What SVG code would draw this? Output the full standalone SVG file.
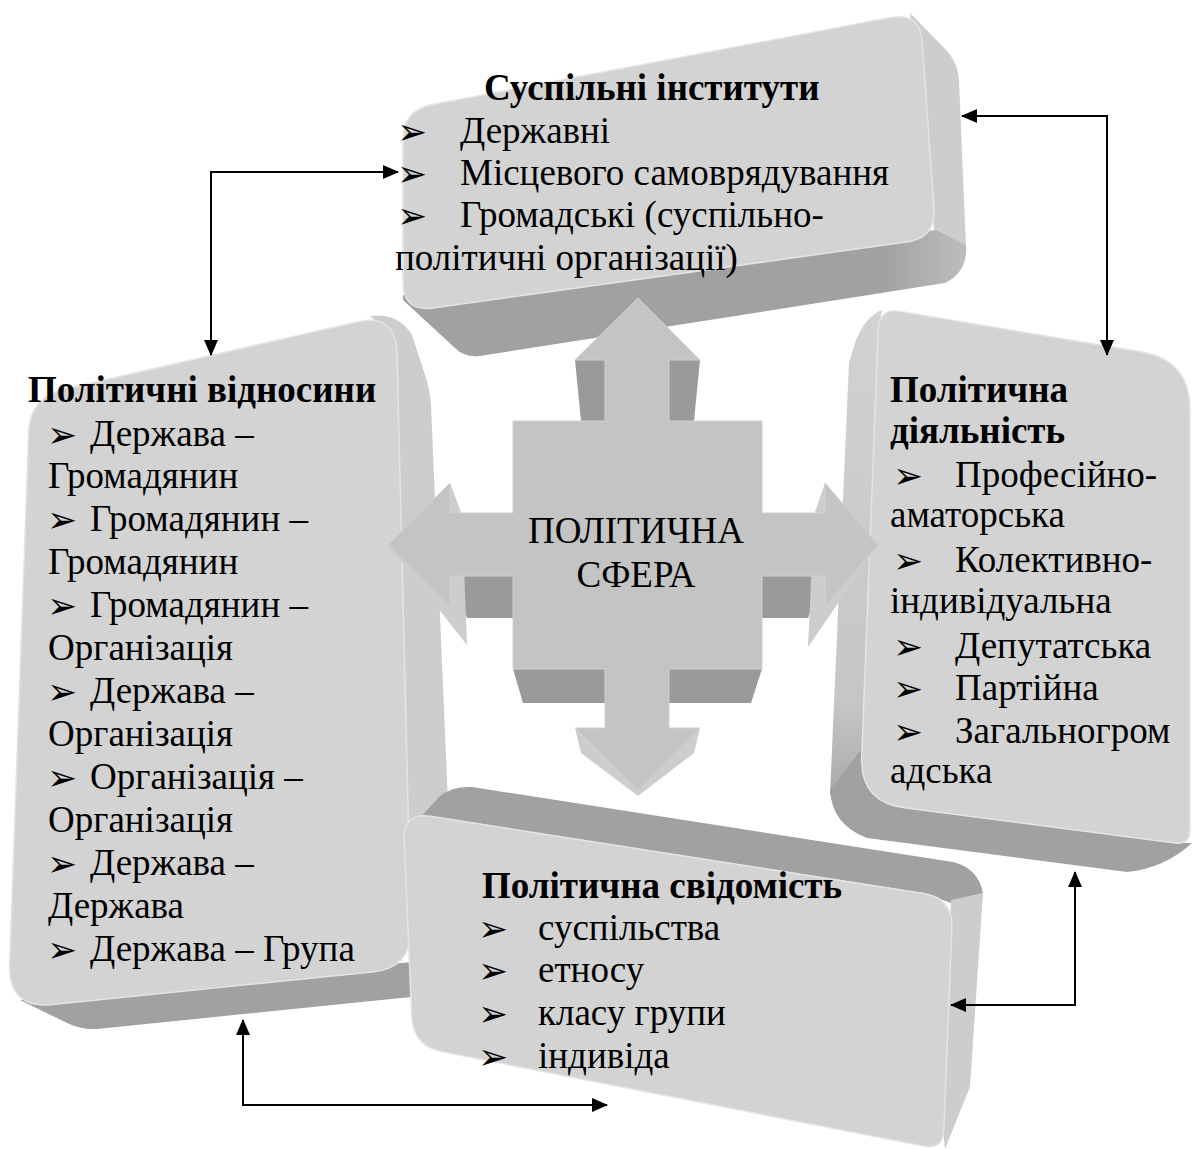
<svg xmlns="http://www.w3.org/2000/svg" width="1196" height="1149" viewBox="0 0 1196 1149">
<defs>
<style>
.face{fill:#d3d3d3;stroke:#e4e4e4;stroke-width:1.5}
.side{fill:#cdcdcd}
.dark{fill:#a1a1a1}
.cf{fill:#c4c4c4;stroke:#d0d0d0;stroke-width:1}
.cd{fill:#9a9a9a}
.cb{fill:#cdcdcd}
.t{font-family:"Liberation Serif","Times New Roman",serif;font-size:37px;fill:#000}
.b{font-weight:bold}
.bul{font-family:"DejaVu Sans",sans-serif;font-size:36px;fill:#000}
.conn{fill:none;stroke:#000;stroke-width:2}
</style>
<marker id="ah" viewBox="0 0 16 14" refX="15" refY="7" markerWidth="16" markerHeight="14" markerUnits="userSpaceOnUse" orient="auto-start-reverse">
<path d="M0,0 L16,7 L0,14 Z" fill="#000"/>
</marker>
<linearGradient id="rbSide" x1="0" y1="0" x2="0" y2="1">
<stop offset="0" stop-color="#d2d2d2"/>
<stop offset="0.8" stop-color="#c6c6c6"/>
<stop offset="1" stop-color="#a8a8a8"/>
</linearGradient>
<linearGradient id="cornerDark" x1="0" y1="0" x2="1" y2="0">
<stop offset="0" stop-color="#a1a1a1"/>
<stop offset="0.85" stop-color="#a1a1a1"/>
<stop offset="1" stop-color="#bdbdbd"/>
</linearGradient>
</defs>

<g id="node-political-relations">
<path class="side" d="M370,316 Q398,312 412,335 L425,375 Q430,390 431,405 L456,990 L412,968 L396,340 Z"/>
<path class="dark" d="M20,1000 L412,962 L456,985 L440,994 L97,1029 Q80,1030 65,1022 Z"/>
<path class="face" d="M28.7,432 Q30,397 64.1,389.2 L357,321.9 Q396,313 397,353 L411,928 Q412,968 372.2,972 L52.8,1004.5 Q8,1009 9.6,964 Z"/>
<text class="t b" x="28" y="402">Політичні відносини</text>
<text class="bul" x="47" y="447">➢</text><text class="t" x="90" y="446">Держава –</text>
<text class="t" x="48" y="488">Громадянин</text>
<text class="bul" x="47" y="532">➢</text><text class="t" x="90" y="531">Громадянин –</text>
<text class="t" x="48" y="574">Громадянин</text>
<text class="bul" x="47" y="618">➢</text><text class="t" x="90" y="617">Громадянин –</text>
<text class="t" x="48" y="660">Організація</text>
<text class="bul" x="47" y="704">➢</text><text class="t" x="90" y="703">Держава –</text>
<text class="t" x="48" y="746">Організація</text>
<text class="bul" x="47" y="790">➢</text><text class="t" x="90" y="789">Організація –</text>
<text class="t" x="48" y="832">Організація</text>
<text class="bul" x="47" y="876">➢</text><text class="t" x="90" y="875">Держава –</text>
<text class="t" x="48" y="918">Держава</text>
<text class="bul" x="47" y="962">➢</text><text class="t" x="90" y="961">Держава – Група</text>
</g>

<g id="node-social-institutions">
<path class="side" d="M910,13 L948,52 Q958,64 959,80 L966,248 L935,238 Z"/>
<path fill="url(#cornerDark)" d="M403,295 L936,230 L966,245 Q968,272 945,283 L480,356 Q465,358 455,348 L403,300 Z"/>
<path class="face" d="M403,140 Q403,110 432.5,104.4 L890.5,17.6 Q920,12 922.1,41.9 L933.9,208.1 Q936,238 906.3,242.1 L432.7,307.9 Q403,312 403,282 Z"/>
<text class="t b" x="484" y="100">Суспільні інститути</text>
<text class="bul" x="397" y="144">➢</text><text class="t" x="460" y="143">Державні</text>
<text class="bul" x="397" y="186">➢</text><text class="t" x="460" y="185">Місцевого самоврядування</text>
<text class="bul" x="397" y="228">➢</text><text class="t" x="460" y="227">Громадські (суспільно-</text>
<text class="t" x="395" y="270">політичні організації)</text>
</g>

<g id="node-political-consciousness">
<path class="dark" d="M404,835 L440,796 Q452,786 472,787 L953,862 Q978,868 983,893 L951,903 L923,893 L430,816 Q410,815 404,835 Z"/>
<path class="side" d="M951,900 L983,893 L970,1087 L945,1149 L943,1130 Z"/>
<path class="face" d="M404.2,840 Q403,812 430.7,816.3 L923.4,893.4 Q953,898 951.8,928 L943.8,1130 Q943,1150 923.4,1146.1 L442.4,1051.8 Q413,1046 411.7,1016 Z"/>
<text class="t b" x="482" y="898">Політична свідомість</text>
<text class="bul" x="478" y="941">➢</text><text class="t" x="538" y="940">суспільства</text>
<text class="bul" x="478" y="983">➢</text><text class="t" x="538" y="982">етносу</text>
<text class="bul" x="478" y="1026">➢</text><text class="t" x="538" y="1025">класу групи</text>
<text class="bul" x="478" y="1069">➢</text><text class="t" x="538" y="1068">індивіда</text>
</g>

<g id="node-political-activity">
<path fill="url(#rbSide)" d="M882,310 Q866,316 856,340 L849,362 L830,795 L862,800 L879,330 Z"/>
<path class="dark" d="M861,750 L830,790 Q832,825 867,838 L1127,872 Q1165,868 1192,843 L1175,843 L904,808 Q862,802 861,757 Z"/>
<path class="face" d="M878.2,330 Q879,308 900.7,311.6 L1140.7,351.8 Q1190,360 1190,410 L1190,830 Q1190,845 1175.1,843.1 L904.6,807.8 Q860,802 861.7,757 Z"/>
<text class="t b" x="890" y="402">Політична</text>
<text class="t b" x="890" y="443">діяльність</text>
<text class="bul" x="893" y="488">➢</text><text class="t" x="955" y="487">Професійно-</text>
<text class="t" x="890" y="527">аматорська</text>
<text class="bul" x="893" y="573">➢</text><text class="t" x="955" y="572">Колективно-</text>
<text class="t" x="890" y="613">індивідуальна</text>
<text class="bul" x="893" y="659">➢</text><text class="t" x="955" y="658">Депутатська</text>
<text class="bul" x="893" y="701">➢</text><text class="t" x="955" y="700">Партійна</text>
<text class="bul" x="893" y="744">➢</text><text class="t" x="955" y="743">Загальногром</text>
<text class="t" x="890" y="783">адська</text>
</g>

<g id="node-political-sphere">
<path class="cd" d="M575,360 L605,360 L605,421 L581,421 Z"/>
<path class="cd" d="M669,360 L700,360 L694,421 L669,421 Z"/>
<path class="cd" d="M452,576 L513,576 L513,618 L467,618 Z"/>
<path class="cd" d="M762,576 L825,576 L808,618 L762,618 Z"/>
<path class="cd" d="M513,669 L605,669 L605,703 L523,703 Z"/>
<path class="cd" d="M669,669 L762,669 L751,703 L669,703 Z"/>
<path class="cb" d="M450,483 L462,515 L467,645 L388,545 Z"/>
<path class="cb" d="M825,483 L814,515 L808,647 L878,545 Z"/>
<path class="cb" d="M575,728 L581,753 L638,796 L694,753 L700,728 Z"/>
<path class="cf" d="M605,421 L605,360 L575,360 L638,298 L700,360 L669,360 L669,421 L762,421 L762,513 L825,513 L825,483 L878,545 L825,607 L825,576 L762,576 L762,669 L669,669 L669,728 L700,728 L638,790 L575,728 L605,728 L605,669 L513,669 L513,576 L450,576 L450,607 L388,545 L450,483 L450,513 L513,513 L513,421 Z"/>
<text class="t" x="636" y="543" text-anchor="middle">ПОЛІТИЧНА</text>
<text class="t" x="636" y="587" text-anchor="middle">СФЕРА</text>
</g>

<g id="connectors">
<path class="conn" d="M211,355 L211,172 L398,172" marker-start="url(#ah)" marker-end="url(#ah)"/>
<path class="conn" d="M962,116 L1107,116 L1107,355" marker-start="url(#ah)" marker-end="url(#ah)"/>
<path class="conn" d="M1075,872 L1075,1005 L951,1005" marker-start="url(#ah)" marker-end="url(#ah)"/>
<path class="conn" d="M243,1020 L243,1105 L607,1105" marker-start="url(#ah)" marker-end="url(#ah)"/>
</g>
</svg>
